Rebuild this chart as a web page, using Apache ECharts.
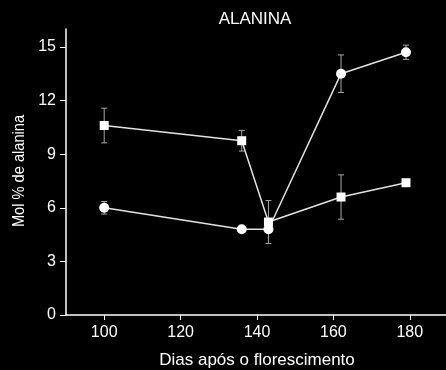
<!DOCTYPE html>
<html>
<head>
<meta charset="utf-8">
<style>
  html, body { margin: 0; padding: 0; background: #000; }
  #chart { width: 446px; height: 370px; }
</style>
<script src="https://cdn.jsdelivr.net/npm/echarts@6/dist/echarts.min.js"></script>
</head>
<body>
<div id="chart"></div>
<script>
// Days after flowering at which samples were taken
const days = [100, 136, 143, 162, 179];
// Alanine (mol %) — circle series and its standard error
const circleMeans = [6.0, 4.8, 4.8, 13.5, 14.7];
const circleErr   = [0.35, 0, 0, 1.05, 0.4];
// Alanine (mol %) — square series and its standard error
const squareMeans = [10.6, 9.75, 5.2, 6.6, 7.4];
const squareErr   = [0.97, 0.58, 1.2, 1.24, 0];
// Axis tick values
const xTicks = [100, 120, 140, 160, 180];
const yTicks = [0, 3, 6, 9, 12, 15];

const FONT = 'Liberation Sans, Arial, sans-serif';

function pairs(xs, ys) { return xs.map((x, i) => [x, ys[i]]); }
function errRows(xs, ys, es) { return xs.map((x, i) => [x, ys[i], es[i]]); }

function renderErrorBar(params, api) {
  const err = api.value(2);
  if (!err) return null;
  const x = api.value(0), y = api.value(1);
  const top = api.coord([x, y + err]);
  const bot = api.coord([x, y - err]);
  const half = 3;
  const style = { stroke: '#a8a8a8', lineWidth: 1 };
  return {
    type: 'group',
    children: [
      { type: 'line', shape: { x1: top[0], y1: top[1], x2: bot[0], y2: bot[1] }, style },
      { type: 'line', shape: { x1: top[0] - half, y1: top[1], x2: top[0] + half, y2: top[1] }, style },
      { type: 'line', shape: { x1: bot[0] - half, y1: bot[1], x2: bot[0] + half, y2: bot[1] }, style }
    ]
  };
}

const chart = echarts.init(document.getElementById('chart'), null, { renderer: 'canvas' });

const lineStyle = { color: '#e2e2e2', width: 1.5 };

chart.setOption({
  backgroundColor: '#000',
  animation: false,
  grid: { left: 66, right: -2, top: 29, bottom: 55, outerBoundsMode: 'none', containLabel: false },
  xAxis: {
    type: 'value',
    min: 90,
    max: 190,
    name: 'Dias após o florescimento',
    nameLocation: 'middle',
    nameGap: 37,
    nameTextStyle: { color: '#fff', fontFamily: FONT, fontSize: 17 },
    axisLine: { show: true, lineStyle: { color: '#fff', width: 1.5 } },
    axisTick: { show: true, length: 5, customValues: xTicks, lineStyle: { color: '#fff', width: 1 } },
    axisLabel: { customValues: xTicks, color: '#fff', fontFamily: FONT, fontSize: 16, margin: 10 },
    splitLine: { show: false }
  },
  yAxis: {
    type: 'value',
    min: 0,
    max: 16,
    axisLine: { show: true, lineStyle: { color: '#fff', width: 1.5 } },
    axisTick: { show: true, length: 6, customValues: yTicks, lineStyle: { color: '#fff', width: 1 } },
    axisLabel: { customValues: yTicks, color: '#fff', fontFamily: FONT, fontSize: 16, margin: 10 },
    splitLine: { show: false }
  },
  graphic: [
    {
      type: 'text',
      x: 255,
      y: 19,
      style: {
        text: 'ALANINA',
        fill: '#fff',
        font: '17px ' + FONT,
        align: 'center',
        verticalAlign: 'middle'
      }
    },
    {
      type: 'text',
      x: 19,
      y: 171,
      rotation: Math.PI / 2,
      scaleX: 0.86,
      style: {
        text: 'Mol % de alanina',
        fill: '#fff',
        font: '17px ' + FONT,
        align: 'center',
        verticalAlign: 'middle'
      }
    }
  ],
  series: [
    {
      type: 'custom',
      renderItem: renderErrorBar,
      data: errRows(days, squareMeans, squareErr),
      z: 1,
      silent: true
    },
    {
      type: 'custom',
      renderItem: renderErrorBar,
      data: errRows(days, circleMeans, circleErr),
      z: 1,
      silent: true
    },
    {
      type: 'line',
      data: pairs(days, squareMeans),
      symbol: 'rect',
      symbolSize: 9,
      lineStyle,
      itemStyle: { color: '#fff', borderWidth: 0 },
      z: 3
    },
    {
      type: 'line',
      data: pairs(days, circleMeans),
      symbol: 'circle',
      symbolSize: 10,
      lineStyle,
      itemStyle: { color: '#fff', borderWidth: 0 },
      z: 3
    }
  ]
});
</script>
</body>
</html>
